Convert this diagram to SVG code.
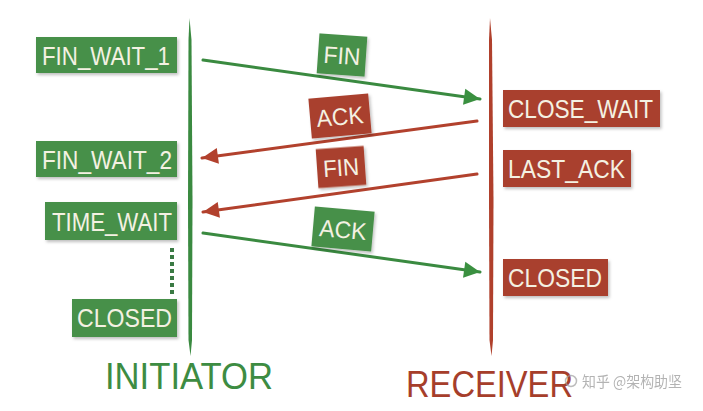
<svg xmlns="http://www.w3.org/2000/svg" width="703" height="411" viewBox="0 0 703 411">
  <style>
    .txt { font-family: "Liberation Sans", Arial, sans-serif; fill: #f4f1e2; font-size: 25px; }
    .lbl { font-family: "Liberation Sans", Arial, sans-serif; fill: #f4f1e2; font-size: 24px; text-anchor: middle; }
    .g { fill: #46904a; }
    .r { fill: #a9402f; }
    .title { font-family: "Liberation Sans", Arial, sans-serif; font-size: 36px; }
    .wm { font-family: "Noto Sans CJK SC", sans-serif; font-size: 15px; fill: #9a9a9a; opacity: 0.75; }
  </style>
  <defs>
    <filter id="shadow" x="-20%" y="-20%" width="140%" height="150%">
      <feDropShadow dx="1.5" dy="2" stdDeviation="1.5" flood-color="#000" flood-opacity="0.25"/>
    </filter>
    <marker id="headG" markerUnits="userSpaceOnUse" markerWidth="20" markerHeight="20" viewBox="0 0 20 20" refX="18" refY="10" orient="auto">
      <path d="M2,2 L18,10 L2,18 Z" fill="#3a9040"/>
    </marker>
    <marker id="headR" markerUnits="userSpaceOnUse" markerWidth="20" markerHeight="20" viewBox="0 0 20 20" refX="18" refY="10" orient="auto">
      <path d="M2,2 L18,10 L2,18 Z" fill="#b2412d"/>
    </marker>
  </defs>

  <!-- timelines -->
  <g id="initiator-line">
    <path d="M189.5,18 L191.5,40 L192.5,200 L192,340 L190.5,356 L188.5,340 L188,200 L188.5,40 Z" fill="#3a8a40"/>
  </g>
  <g id="receiver-line">
    <path d="M490,18 L492,40 L493.5,200 L493,340 L491.5,356 L489.5,340 L489,200 L489,40 Z" fill="#b0402c"/>
  </g>

  <!-- message connectors -->
  <g id="connectors" fill="none" stroke-linecap="round">
    <path d="M203,60 L480,99" stroke="#3a8a40" stroke-width="3" marker-end="url(#headG)"/>
    <path d="M477,121 L202,158" stroke="#b2412d" stroke-width="3" marker-end="url(#headR)"/>
    <path d="M477,174 L203,212" stroke="#b2412d" stroke-width="3" marker-end="url(#headR)"/>
    <path d="M203,233 L480,272" stroke="#3a8a40" stroke-width="3" marker-end="url(#headG)"/>
  </g>

  <!-- message labels -->
  <g id="msg-fin-1" transform="translate(342,55) rotate(4)">
    <rect class="g" x="-24" y="-20" width="48" height="40" filter="url(#shadow)"/>
    <text class="lbl" x="0" y="9" textLength="37" lengthAdjust="spacingAndGlyphs">FIN</text>
  </g>
  <g id="msg-ack-1" transform="translate(340,116) rotate(-5)">
    <rect class="r" x="-30" y="-20" width="60" height="40" filter="url(#shadow)"/>
    <text class="lbl" x="0" y="9" textLength="47" lengthAdjust="spacingAndGlyphs">ACK</text>
  </g>
  <g id="msg-fin-2" transform="translate(341,167) rotate(-4)">
    <rect class="r" x="-24" y="-19.5" width="48" height="39" filter="url(#shadow)"/>
    <text class="lbl" x="0" y="9" textLength="36" lengthAdjust="spacingAndGlyphs">FIN</text>
  </g>
  <g id="msg-ack-2" transform="translate(343,229) rotate(5)">
    <rect class="g" x="-30" y="-20" width="60" height="40" filter="url(#shadow)"/>
    <text class="lbl" x="0" y="9" textLength="47" lengthAdjust="spacingAndGlyphs">ACK</text>
  </g>

  <!-- initiator states -->
  <g id="fin-wait-1">
    <rect class="g" x="36" y="37" width="141" height="36" filter="url(#shadow)"/>
    <text class="txt" x="42" y="64.5" textLength="128" lengthAdjust="spacingAndGlyphs">FIN_WAIT_1</text>
  </g>
  <g id="fin-wait-2">
    <rect class="g" x="36" y="141" width="141" height="36" filter="url(#shadow)"/>
    <text class="txt" x="42" y="168.5" textLength="130" lengthAdjust="spacingAndGlyphs">FIN_WAIT_2</text>
  </g>
  <g id="time-wait">
    <rect class="g" x="45" y="202" width="132" height="38" filter="url(#shadow)"/>
    <text class="txt" x="52" y="230.5" textLength="120" lengthAdjust="spacingAndGlyphs">TIME_WAIT</text>
  </g>
  <g id="wait-dots" fill="#3a7a44">
    <rect x="170" y="248" width="4" height="4"/>
    <rect x="170" y="255" width="4" height="4"/>
    <rect x="170" y="262" width="4" height="4"/>
    <rect x="170" y="269" width="4" height="4"/>
    <rect x="170" y="276" width="4" height="4"/>
    <rect x="170" y="283" width="4" height="4"/>
    <rect x="170" y="290" width="4" height="4"/>
  </g>
  <g id="closed-initiator">
    <rect class="g" x="72" y="299" width="105" height="38" filter="url(#shadow)"/>
    <text class="txt" x="77" y="327" textLength="95" lengthAdjust="spacingAndGlyphs">CLOSED</text>
  </g>

  <!-- receiver states -->
  <g id="close-wait">
    <rect class="r" x="503" y="90" width="157" height="37" filter="url(#shadow)"/>
    <text class="txt" x="508" y="117.5" textLength="145" lengthAdjust="spacingAndGlyphs">CLOSE_WAIT</text>
  </g>
  <g id="last-ack">
    <rect class="r" x="503" y="150" width="128" height="37" filter="url(#shadow)"/>
    <text class="txt" x="508" y="177.5" textLength="117" lengthAdjust="spacingAndGlyphs">LAST_ACK</text>
  </g>
  <g id="closed-receiver">
    <rect class="r" x="503" y="259" width="105" height="37" filter="url(#shadow)"/>
    <text class="txt" x="508" y="287" textLength="94" lengthAdjust="spacingAndGlyphs">CLOSED</text>
  </g>

  <!-- side titles -->
  <g id="title-initiator">
    <text class="title" x="105" y="389" fill="#3d8c42" textLength="168" lengthAdjust="spacingAndGlyphs">INITIATOR</text>
  </g>
  <g id="title-receiver">
    <text class="title" x="406" y="397" fill="#a63e2b" textLength="167" lengthAdjust="spacingAndGlyphs">RECEIVER</text>
  </g>

  <!-- watermark -->
  <g id="watermark">
    <circle cx="571" cy="381" r="5.5" fill="none" stroke="#a0a0a0" stroke-width="1.5" opacity="0.7"/>
    <text class="wm" x="582" y="387" textLength="100" lengthAdjust="spacingAndGlyphs">知乎 @架构助坚</text>
  </g>
</svg>
